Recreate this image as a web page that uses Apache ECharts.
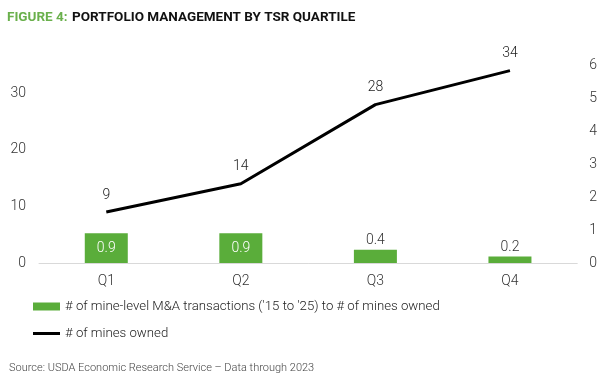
<!DOCTYPE html>
<html><head><meta charset="utf-8">
<script src="https://cdn.jsdelivr.net/npm/echarts@6/dist/echarts.min.js"></script>
<style>html,body{margin:0;padding:0;background:#fff}#c{width:600px;height:378px}</style>
</head><body><div id="c"></div>
<script>
const categories = ['Q1','Q2','Q3','Q4'];
const ratioValues = [0.9, 0.9, 0.4, 0.2];
const minesOwned = [9, 14, 28, 34];
const leftTicks = [0, 10, 20, 30];
const rightTicks = [0, 1, 2, 3, 4, 5, 6];
const barName = "# of mine-level M&A transactions ('15 to '25) to # of mines owned";
const lineName = '# of mines owned';
const sourceText = 'Source: USDA Economic Research Service \u2013 Data through 2023';

const font = 'Roboto';
const chart = echarts.init(document.getElementById('c'), null, {renderer:'canvas'});
chart.setOption({
  animation: false,
  textStyle: {fontFamily: font},
  title: [{
    text: '{g|FIGURE 4:} {b|PORTFOLIO MANAGEMENT BY TSR QUARTILE}',
    left: 2, top: 4,
    textStyle: {rich: {
      g: {color: '#6ab04c', fontWeight: 'bold', fontSize: 13.5, fontFamily: font},
      b: {color: '#111', fontWeight: 'bold', fontSize: 13.5, fontFamily: font}
    }}
  },{
    text: sourceText, left: 4, top: 358,
    textStyle: {color: '#444', fontWeight: 300, fontSize: 11, fontFamily: font}
  }],
  grid: {left: 39, right: 22, top: 65, bottom: 115, containLabel: false},
  legend: [{
    data: [{name: barName, icon: 'rect'}],
    left: 28, top: 295, itemWidth: 27, itemHeight: 8, itemGap: 4,
    textStyle: {fontSize: 13.2, fontWeight: 300, color: '#222', fontFamily: font}, selectedMode: false
  },{
    data: [{name: lineName, icon: 'rect'}],
    left: 28, top: 322, itemWidth: 27, itemHeight: 3, itemGap: 4,
    textStyle: {fontSize: 13.2, fontWeight: 300, color: '#222', fontFamily: font}, selectedMode: false
  }],
  xAxis: {
    type: 'category', data: categories,
    axisLine: {show: true, lineStyle: {color: '#d9d9d9', width: 1}},
    axisTick: {show: false},
    axisLabel: {fontSize: 14, fontWeight: 300, color: '#333', margin: 11}
  },
  yAxis: [{
    type: 'value', min: 0, max: 35, interval: 10,
    splitLine: {show: false}, axisLine: {show: false}, axisTick: {show: false},
    axisLabel: {fontSize: 14, fontWeight: 300, color: '#333', margin: 13,
      formatter: v => leftTicks.includes(v) ? String(v) : ''}
  },{
    type: 'value', min: 0, max: 6, interval: 1,
    splitLine: {show: false}, axisLine: {show: false}, axisTick: {show: false},
    axisLabel: {fontSize: 14, fontWeight: 300, color: '#333', margin: 12,
      formatter: v => rightTicks.includes(v) ? String(v) : ''}
  }],
  series: [{
    name: barName, type: 'bar', yAxisIndex: 1, barWidth: 43,
    itemStyle: {color: '#5aad3a'},
    data: ratioValues.map(v => ({
      value: v,
      label: v >= 0.5
        ? {show: true, position: 'inside', color: '#fff', fontSize: 14, fontWeight: 300}
        : {show: true, position: 'top', color: '#333', fontSize: 14, fontWeight: 300, distance: 2}
    }))
  },{
    name: lineName, type: 'line', yAxisIndex: 0,
    data: minesOwned, symbol: 'circle', symbolSize: 0,
    lineStyle: {color: '#000', width: 3}, itemStyle: {color: '#000'},
    label: {show: true, position: 'top', distance: 10, color: '#222', fontSize: 14, fontWeight: 300}
  }]
});
</script></body></html>
